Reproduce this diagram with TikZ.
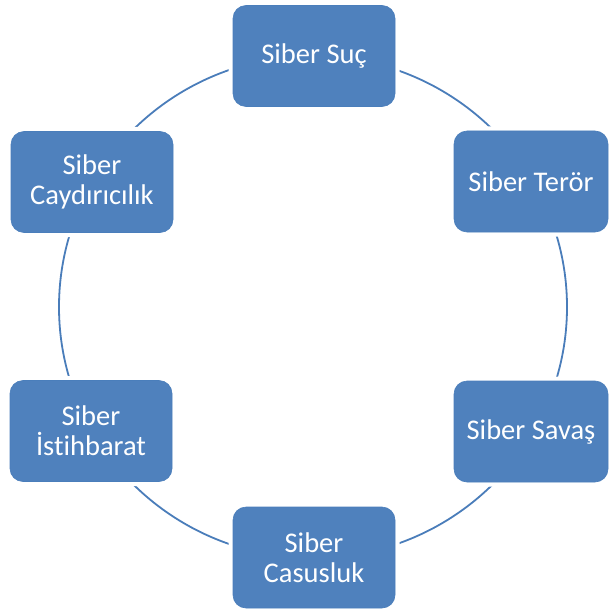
\documentclass[tikz,border=0pt]{standalone}
\usepackage{fontspec}
\setmainfont{Carlito}[Ligatures=NoCommon]
\definecolor{SBblue}{HTML}{4F81BD}
\definecolor{SBedge}{HTML}{4A7EBB}
\definecolor{SBline}{HTML}{4A7DBA}
\usetikzlibrary{positioning}

\begin{document}
\begin{tikzpicture}[x=1pt, y=-1pt,
   sbbox/.style={rectangle, rounded corners=13pt, fill=SBblue, draw=SBedge,
      line width=0.6pt, text=white, align=center,
      font=\fontsize{28.5}{30}\selectfont, inner sep=0pt,
      minimum width=162pt, minimum height=101pt,
      preaction={draw=white, line width=9pt}},
   ring/.style={SBline, line width=1.8pt}]
            \useasboundingbox (0,0) rectangle (609,612);
            \fill[white] (0,0) rectangle (609,612);
            % Cycle behind the boxes
            \draw[ring] (313,307) ellipse [x radius=254, y radius=251];
            % Top and bottom
            \node[sbbox] (suc) at (314,56) {Siber Suç};
            \node[sbbox] (casus) at (314,557.5) {Siber\\Casusluk};
            % Right side
            \node[sbbox, minimum width=154pt] (teror) at (531,181.5) {Siber Terör};
            \node[sbbox, minimum width=154pt] (savas) at (531,431.5) {Siber Savaş};
            % Left side
            \node[sbbox] (caydir) at (92,182) {Siber\\Caydırıcılık};
            \node[sbbox] (istih) at (91,431) {Siber\\İstihbarat};
         \end{tikzpicture}
\end{document}
